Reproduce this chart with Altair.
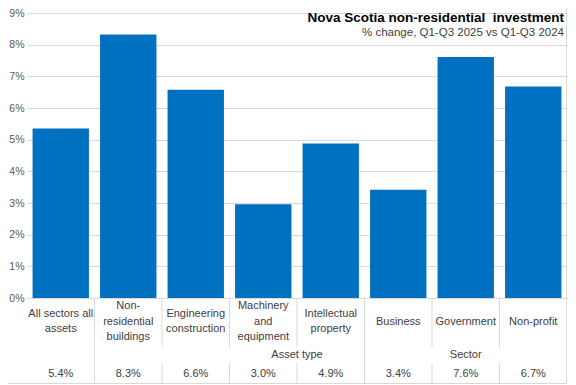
import altair as alt
import pandas as pd

cats = ["All sectors all assets", "Non-residential buildings", "Engineering construction",
        "Machinery and equipment", "Intellectual property", "Business", "Government", "Non-profit"]
label_lines = ["All sectors all\nassets", "Non-\nresidential\nbuildings", "Engineering\nconstruction",
               "Machinery\nand\nequipment", "Intellectual\nproperty", "Business", "Government", "Non-profit"]
values = [5.35, 8.32, 6.58, 2.96, 4.88, 3.42, 7.61, 6.68]
table_labels = ["5.4%", "8.3%", "6.6%", "3.0%", "4.9%", "3.4%", "7.6%", "6.7%"]
y_ticks = [0, 1, 2, 3, 4, 5, 6, 7, 8, 9]

title_text = "Nova Scotia non-residential\u00a0 investment"
subtitle_text = "% change, Q1-Q3 2025 vs Q1-Q3 2024"

# separators in the category table: left edge of each category
full_seps = ["Non-residential buildings", "Business"]
broken_seps = ["Engineering construction", "Machinery and equipment", "Intellectual property",
               "Government", "Non-profit"]

df = pd.DataFrame({"cat": cats, "lab": label_lines, "val": values, "tab": table_labels})
full_df = pd.DataFrame({"cat": full_seps})
broken_df = pd.DataFrame({"cat": broken_seps})
asset_df = pd.DataFrame({"cat": ["Intellectual property"], "g": ["Asset type"]})
sector_df = pd.DataFrame({"cat": ["Government"], "g": ["Sector"]})
title_df = pd.DataFrame({"t": [title_text]})
sub_df = pd.DataFrame({"t": [subtitle_text]})

W, H = 540, 285
LINE = "#d9d9d9"
TXT = "#404040"
ROW1 = H + 23.5   # vertical centre of the category label row
LH = 15.5
BOTTOM = H + 86

xscale = alt.Scale(domain=cats, paddingInner=0, paddingOuter=0)
xaxis = alt.Axis(labels=False, ticks=False, title=None, domain=True, domainColor=LINE, grid=False)


def X(**kw):
    return alt.X("cat:N", scale=xscale, axis=xaxis, **kw)


bars = alt.Chart(df).mark_bar(width=alt.RelativeBandSize(0.835), color="#0070C0").encode(
    x=X(),
    y=alt.Y("val:Q", scale=alt.Scale(domain=[0, 9], nice=False),
            axis=alt.Axis(values=y_ticks, labelExpr="datum.value + '%'", title=None,
                          ticks=False, domain=False, grid=True, gridColor=LINE,
                          labelColor="#595959", labelFontSize=10.5, labelPadding=3)),
)

row1_layers = []
for n in (1, 2, 3):
    row1_layers.append(
        alt.Chart(df).transform_calculate(
            n="length(split(datum.lab, '\\n'))"
        ).transform_filter(f"datum.n == {n}").mark_text(
            lineBreak="\n", baseline="middle", align="center",
            fontSize=11, lineHeight=LH, color=TXT).encode(
            x=X(), y=alt.value(ROW1 - (n - 1) * LH / 2), text="lab:N")
    )

row3 = alt.Chart(df).mark_text(baseline="middle", align="center", fontSize=11, color=TXT).encode(
    x=X(), y=alt.value(H + 76), text="tab:N")

asset = alt.Chart(asset_df).mark_text(baseline="middle", align="center", fontSize=11, color=TXT).encode(
    x=X(bandPosition=0), y=alt.value(H + 57), text="g:N")
sector = alt.Chart(sector_df).mark_text(baseline="middle", align="center", fontSize=11, color=TXT).encode(
    x=X(bandPosition=0.5), y=alt.value(H + 57), text="g:N")

full_rules = alt.Chart(full_df).mark_rule(color=LINE, strokeWidth=1).encode(
    x=X(bandPosition=0), y=alt.value(H), y2=alt.value(BOTTOM))
broken_top = alt.Chart(broken_df).mark_rule(color=LINE, strokeWidth=1).encode(
    x=X(bandPosition=0), y=alt.value(H), y2=alt.value(H + 49))
broken_bot = alt.Chart(broken_df).mark_rule(color=LINE, strokeWidth=1).encode(
    x=X(bandPosition=0), y=alt.value(H + 65), y2=alt.value(BOTTOM))

bottom_line = alt.Chart(title_df).mark_rule(color=LINE, strokeWidth=1).encode(
    x=alt.value(-19), x2=alt.value(W), y=alt.value(BOTTOM - 0.5))
right_line = alt.Chart(title_df).mark_rule(color=LINE, strokeWidth=1).encode(
    x=alt.value(W - 0.5), y=alt.value(-5), y2=alt.value(BOTTOM))

title = alt.Chart(title_df).mark_text(align="right", baseline="alphabetic", fontSize=13.5,
                                      fontWeight="bold", color="#000000").encode(
    x=alt.value(W - 3), y=alt.value(8.5), text="t:N")
subtitle = alt.Chart(sub_df).mark_text(align="right", baseline="alphabetic", fontSize=11.5,
                                       color=TXT).encode(
    x=alt.value(W - 3), y=alt.value(22.5), text="t:N")

chart = alt.layer(
    bars, full_rules, broken_top, broken_bot, bottom_line, right_line,
    *row1_layers, row3, asset, sector, title, subtitle
).properties(
    width=W, height=H,
    autosize=alt.AutoSizeParams(type="none"),
    padding={"left": 19, "top": 5, "right": 1, "bottom": 86},
).configure(font="Liberation Sans").configure_view(strokeWidth=0)

chart.save("out.html", embed_options={"renderer": "svg", "actions": False})
